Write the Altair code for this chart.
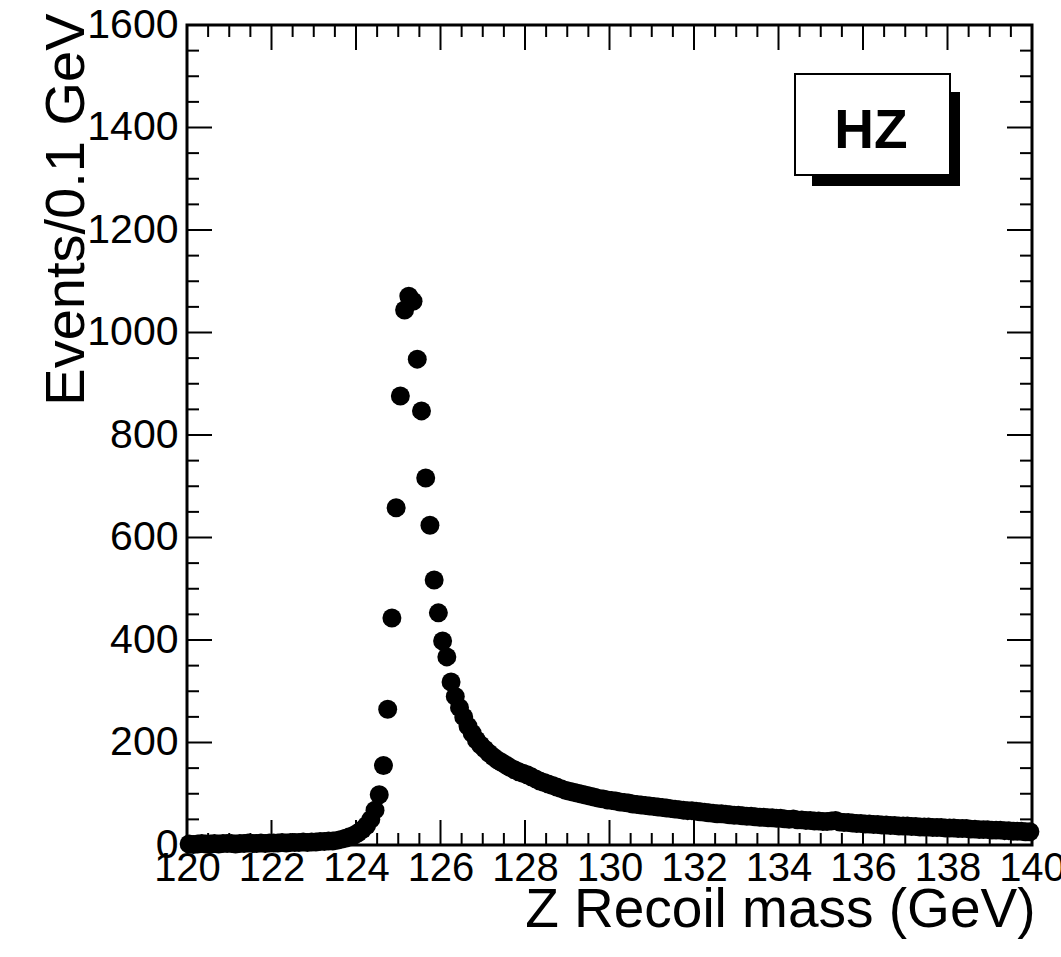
import altair as alt
import pandas as pd

# ---------------- data (histogram, 0.1 GeV bins from 120 to 140 GeV) -------------
BIN_START = 120.0
BIN_WIDTH = 0.1

counts_120_123 = [2, 1, 2, 3, 2, 2, 3, 2, 3, 3,
                  3, 2, 3, 3, 4, 3, 3, 4, 3, 4,
                  4, 4, 5, 4, 5, 5, 5, 6, 5, 6,
                  6, 7, 7, 8, 8]
counts_rise = [9, 11, 13, 16, 19, 24, 30, 38, 50, 68]
counts_peak = [98, 155, 265, 443, 658, 876, 1044, 1071, 1061, 948,
               847, 716, 624, 517, 453, 398, 367]
counts_fall = [318, 290, 268, 250, 232, 218, 205, 195, 187, 179,
               172, 166, 161, 156, 151, 147, 143, 140, 137]
counts_128_130 = [133, 129, 125, 122, 119, 116, 113, 110, 107, 105,
                  103, 101, 99, 97, 95, 93, 91, 90, 88]
counts_130_140 = [87, 86, 84, 83, 82, 80, 79, 78, 77, 76,
                  75, 74, 73, 72, 71, 70, 69, 68, 67, 67,
                  66, 65, 64, 63, 62, 61, 61, 60, 59, 58,
                  58, 57, 56, 56, 55, 54, 54, 53, 53, 52,
                  52, 51, 50, 51, 49, 49, 48, 48, 47, 47,
                  46, 46, 47, 48, 45, 44, 44, 43, 42, 42,
                  41, 41, 40, 40, 39, 39, 38, 38, 37, 37,
                  37, 36, 36, 35, 35, 35, 34, 34, 34, 33,
                  33, 33, 32, 32, 32, 31, 31, 30, 30, 30,
                  29, 29, 29, 28, 28, 27, 27, 27, 26, 26]

counts = (counts_120_123 + counts_rise + counts_peak + counts_fall
          + counts_128_130 + counts_130_140)
centers = [round(BIN_START + BIN_WIDTH * (i + 0.5), 2) for i in range(len(counts))]
df = pd.DataFrame({"mass": centers, "events": counts})

x_major = list(range(120, 141, 2))
x_minor = [120 + 0.5 * i for i in range(41) if (0.5 * i) % 2 != 0]
y_major = list(range(0, 1601, 200))
y_minor = [v for v in range(0, 1601, 50) if v % 200 != 0]

W, H = 845, 820
FONT = "Liberation Sans"
MAJ, MIN = 25, 12

x_scale = alt.Scale(domain=[120, 140], nice=False, zero=False)
y_scale = alt.Scale(domain=[0, 1600], nice=False)

x_axis = alt.Axis(values=x_major, format="d", grid=False, domain=False,
                  ticks=False, tickSize=0, labelFlush=False, labelOverlap=False,
                  labelFont=FONT, labelFontSize=40, labelColor="black",
                  labelPadding=3,
                  title="Z Recoil mass (GeV)", titleFont=FONT,
                  titleFontSize=55, titleFontWeight="normal", titleColor="black",
                  titleX=W + 3, titleY=81, titleAlign="right",
                  titleBaseline="alphabetic")
y_axis = alt.Axis(values=y_major, format="d", grid=False, domain=False,
                  ticks=False, tickSize=0, labelFlush=False, labelOverlap=False,
                  labelFont=FONT, labelFontSize=41, labelColor="black",
                  labelPadding=9,
                  title="Events/0.1 GeV", titleFont=FONT,
                  titleFontSize=56, titleFontWeight="normal", titleColor="black",
                  titleX=-104, titleY=-12, titleAngle=270, titleAlign="right",
                  titleBaseline="alphabetic")

points = alt.Chart(df).mark_point(
    filled=True, shape="circle", size=360, color="black", opacity=1
).encode(
    x=alt.X("mass:Q", scale=x_scale, axis=x_axis),
    y=alt.Y("events:Q", scale=y_scale, axis=y_axis),
)


def xticks(vals, length, top):
    base = alt.Chart(pd.DataFrame({"mass": vals})).mark_rule(color="black", strokeWidth=2)
    if top:
        return base.encode(x=alt.X("mass:Q", scale=x_scale, axis=x_axis),
                           y=alt.value(0), y2=alt.value(length))
    return base.encode(x=alt.X("mass:Q", scale=x_scale, axis=x_axis),
                       y=alt.value(H), y2=alt.value(H - length))


def yticks(vals, length, right):
    base = alt.Chart(pd.DataFrame({"events": vals})).mark_rule(color="black", strokeWidth=2)
    if right:
        return base.encode(y=alt.Y("events:Q", scale=y_scale, axis=y_axis),
                           x=alt.value(W), x2=alt.value(W - length))
    return base.encode(y=alt.Y("events:Q", scale=y_scale, axis=y_axis),
                       x=alt.value(0), x2=alt.value(length))


ticks = [xticks(x_major, MAJ, False), xticks(x_minor, MIN, False),
         xticks(x_major, MAJ, True), xticks(x_minor, MIN, True),
         yticks(y_major, MAJ, False), yticks(y_minor, MIN, False),
         yticks(y_major, MAJ, True), yticks(y_minor, MIN, True)]

one = pd.DataFrame({"a": [0]})
shadow = alt.Chart(one).mark_rect(color="black").encode(
    x=alt.value(625), x2=alt.value(773), y=alt.value(67), y2=alt.value(161))
box = alt.Chart(one).mark_rect(fill="white", stroke="black", strokeWidth=2).encode(
    x=alt.value(608), x2=alt.value(763), y=alt.value(49), y2=alt.value(150))
label = alt.Chart(one).mark_text(
    text="HZ", font=FONT, fontSize=55, fontWeight="bold", color="black",
    align="center", baseline="alphabetic"
).encode(x=alt.value(684), y=alt.value(123))

chart = alt.layer(points, *ticks, shadow, box, label).properties(
    width=W, height=H,
    background="white",
    autosize=alt.AutoSizeParams(type="none"),
    padding={"left": 187, "top": 25, "right": 29, "bottom": 112},
).configure_view(stroke="black", strokeWidth=3)

chart.save("out.html", embed_options={"renderer": "svg", "actions": False})
